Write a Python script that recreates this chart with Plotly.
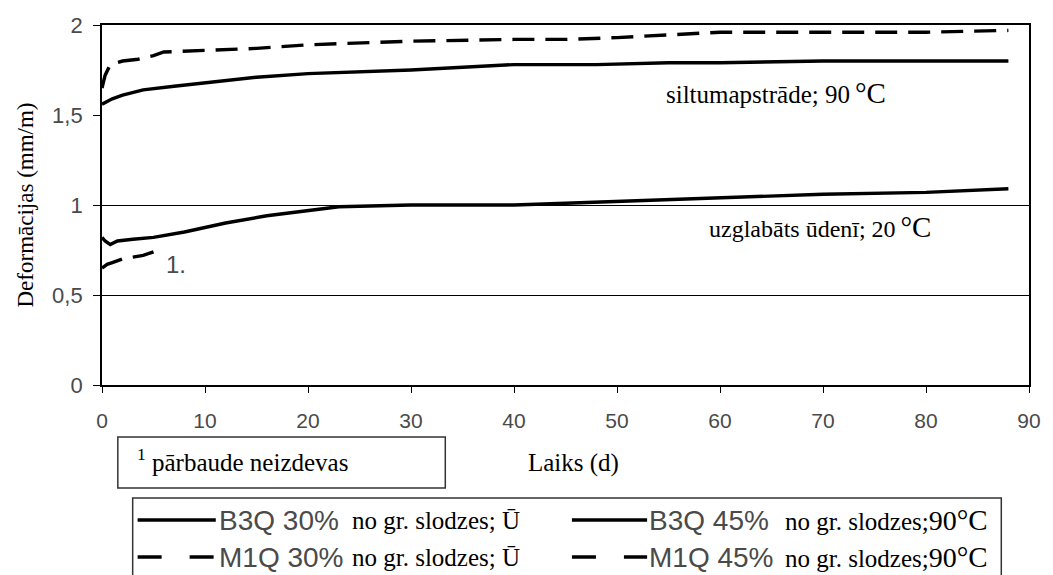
import plotly.graph_objects as go

# Deformation over time (days), mm/m
b3q45_x = [0, 0.3, 1, 2, 4, 7, 10, 15, 20, 25, 30, 40, 48, 55, 60, 70, 80, 88]
b3q45_y = [1.56, 1.57, 1.59, 1.61, 1.64, 1.66, 1.68, 1.71, 1.73, 1.74, 1.75, 1.78, 1.78, 1.79, 1.79, 1.80, 1.80, 1.80]

m1q45_x = [0, 0.3, 0.8, 2, 3.5, 5, 6, 10, 15, 20, 25, 30, 40, 45, 50, 53, 56, 60, 70, 80, 88]
m1q45_y = [1.65, 1.72, 1.78, 1.80, 1.81, 1.83, 1.85, 1.86, 1.87, 1.89, 1.90, 1.91, 1.92, 1.92, 1.93, 1.94, 1.95, 1.96, 1.96, 1.96, 1.97]

b3q30_x = [0, 0.3, 0.8, 1.5, 3, 5, 8, 12, 16, 20, 23, 30, 40, 45, 50, 55, 60, 70, 80, 88]
b3q30_y = [0.82, 0.80, 0.78, 0.80, 0.81, 0.82, 0.85, 0.90, 0.94, 0.97, 0.99, 1.00, 1.00, 1.01, 1.02, 1.03, 1.04, 1.06, 1.07, 1.09]

m1q30_x = [0, 0.5, 1, 2, 3, 4, 5]
m1q30_y = [0.65, 0.67, 0.68, 0.70, 0.71, 0.72, 0.74]

x_ticks = [0, 10, 20, 30, 40, 50, 60, 70, 80, 90]
y_ticks = [0, 0.5, 1, 1.5, 2]
grid_y = [0.5, 1]

BIG_C = '<span style="font-size:29px">°C</span>'
HOT = '<span style="font-size:28px">90</span>' + BIG_C
series = [
    ("B3Q 30%", "no gr. slodzes; Ū", b3q30_x, b3q30_y, "solid"),
    ("B3Q 45%", "no gr. slodzes;" + HOT, b3q45_x, b3q45_y, "solid"),
    ("M1Q 30%", "no gr. slodzes; Ū", m1q30_x, m1q30_y, "dash"),
    ("M1Q 45%", "no gr. slodzes;" + HOT, m1q45_x, m1q45_y, "dash"),
]

SERIF = "Liberation Serif, Times New Roman, serif"
SANS = "Liberation Sans, Arial, sans-serif"
GREY = "#4a4a4a"

W, H = 1053, 575
ML, MR, MT, MB = 102, 14, 25, 190
PW, PH = W - ML - MR, H - MT - MB


def px(xp):
    return (xp - ML) / PW


def py(yp):
    return (H - MB - yp) / PH


fig = go.Figure()
for name, cond, xs, ys, style in series:
    fig.add_trace(go.Scatter(
        x=xs, y=ys, mode="lines", name=name,
        line=dict(color="black", width=3.4,
                  dash="22px,11px" if style == "dash" else "solid"),
        showlegend=False,
    ))

# secondary y axis carrying only the 0,5 and 1 gridlines
fig.add_trace(go.Scatter(x=[None], y=[None], yaxis="y2", showlegend=False, hoverinfo="skip"))

annotations = [
    dict(x=54.6, y=1.622, xref="x", yref="y", xanchor="left", yanchor="middle",
         text="siltumapstrāde; 90\u2009" + BIG_C, showarrow=False,
         font=dict(family=SERIF, size=25, color="black")),
    dict(x=58.7, y=0.878, xref="x", yref="y", xanchor="left", yanchor="middle",
         text="uzglabāts ūdenī; 20\u2009" + BIG_C, showarrow=False,
         font=dict(family=SERIF, size=24, color="black")),
    dict(x=7.2, y=0.667, xref="x", yref="y", xanchor="center", yanchor="middle",
         text="1.", showarrow=False,
         font=dict(family=SANS, size=24, color=GREY)),
    dict(x=px(135), y=py(460), xref="paper", yref="paper", xanchor="left", yanchor="middle",
         text="<sup>1</sup> pārbaude neizdevas", showarrow=False,
         font=dict(family=SERIF, size=25, color="black")),
    dict(x=px(579), y=py(463), xref="paper", yref="paper", xanchor="center", yanchor="middle",
         text="Laiks (d)", showarrow=False,
         font=dict(family=SERIF, size=25, color="black")),
]

shapes = [
    dict(type="rect", xref="paper", yref="paper",
         x0=px(118), x1=px(449), y0=py(488), y1=py(437),
         line=dict(color="#333", width=1.5)),
    dict(type="rect", xref="paper", yref="paper",
         x0=px(133), x1=px(1011), y0=py(590), y1=py(498),
         line=dict(color="#333", width=1.5)),
]

# hand-built legend: two columns, two rows
cols = [(138, 217, 218, 353), (577, 653, 653, 790)]
rows = [520, 557]
for i, (name, cond, _, _, style) in enumerate(series):
    c = cols[i % 2]
    r = rows[i // 2]
    shapes.append(dict(type="line", xref="paper", yref="paper",
                       x0=px(c[0]), x1=px(c[1]), y0=py(r), y1=py(r),
                       line=dict(color="black", width=3.5,
                                 dash="24px,28px" if style == "dash" else "solid")))
    annotations.append(dict(x=px(c[2]), y=py(r), xref="paper", yref="paper",
                            xanchor="left", yanchor="middle", text=name, showarrow=False,
                            font=dict(family=SANS, size=28, color=GREY)))
    annotations.append(dict(x=px(c[3]), y=py(r), xref="paper", yref="paper",
                            xanchor="left", yanchor="middle", text=cond, showarrow=False,
                            font=dict(family=SERIF, size=25, color="black")))

fig.update_layout(
    width=W, height=H,
    margin=dict(l=ML, r=MR, t=MT, b=MB),
    paper_bgcolor="white", plot_bgcolor="white",
    separators=",.",
    xaxis=dict(
        range=[0, 90], tickvals=x_ticks, showgrid=False, zeroline=False,
        showline=True, linecolor="black", linewidth=1.8, mirror=True,
        ticks="outside", ticklen=6, tickwidth=1.2, tickcolor="black",
        tickfont=dict(family=SANS, size=21, color=GREY), ticklabelstandoff=10,
    ),
    yaxis=dict(
        range=[0, 2], tickvals=y_ticks, showgrid=False, zeroline=False,
        showline=True, linecolor="black", linewidth=1.8, mirror=True,
        ticks="outside", ticklen=7, tickwidth=1.2, tickcolor="black",
        tickfont=dict(family=SANS, size=22, color=GREY), ticklabelstandoff=6,
        title=dict(text="Deformācijas (mm/m)", font=dict(family=SERIF, size=23, color="black"),
                   standoff=12),
    ),
    yaxis2=dict(
        range=[0, 2], overlaying="y", tickvals=grid_y, showgrid=True,
        gridcolor="black", gridwidth=1, showticklabels=False, ticks="",
        zeroline=False, showline=False,
    ),
    annotations=annotations,
    shapes=shapes,
    showlegend=False,
)

fig.write_html("out.html")
